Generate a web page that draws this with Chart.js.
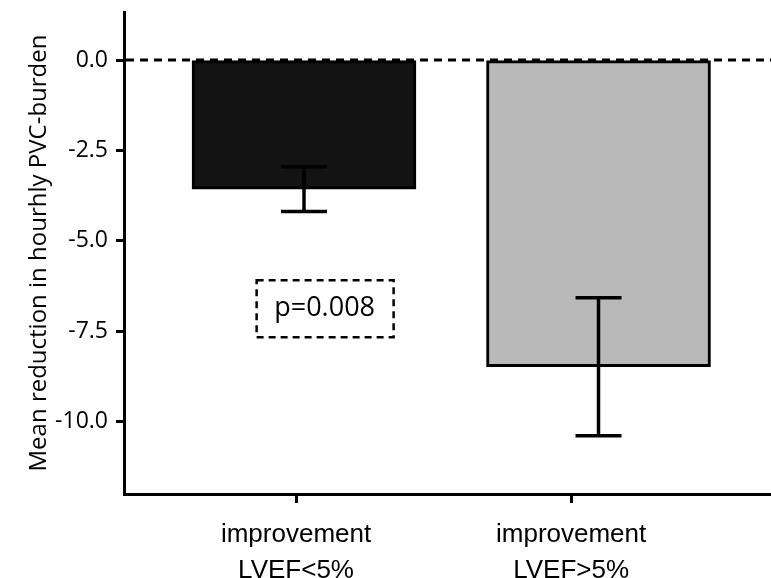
<!DOCTYPE html>
<html>
<head>
<meta charset="utf-8">
<script src="https://cdn.jsdelivr.net/npm/chart.js@4.4.1/dist/chart.umd.min.js"></script>
<style>
  html, body { margin: 0; padding: 0; background: #fff; }
  #wrap { width: 771px; height: 578px; }
</style>
</head>
<body>
<div id="wrap"><canvas id="pvcChart"></canvas></div>
<script>
// Mean change in hourly PVC burden per LVEF-improvement group
const groups = [['improvement', 'LVEF<5%'], ['improvement', 'LVEF>5%']];
const means = [-3.57, -8.48];
const errors = [0.62, 1.91];
const yTicks = [-10, -7.5, -5, -2.5, 0];
const pText = 'p=0.008';

// where things sit on the linear x scale (bars at 1 and 2, labels a bit off)
const barX = [1, 2];
const labelX = [0.973, 1.907];
const pBoxAt = { x: 1.07, y: -6.86 };
const barColors = ['#131313', '#b9b9b9'];

// dashed zero line under the bars, error bars and p-value box on top
const overlayPlugin = {
    id: 'overlay',
    beforeDatasetsDraw(chart) {
        const { ctx, chartArea, scales: { y } } = chart;
        const y0 = y.getPixelForValue(0);
        ctx.save();
        ctx.setLineDash([8, 6]);
        ctx.lineWidth = 3;
        ctx.strokeStyle = '#000';
        ctx.beginPath();
        ctx.moveTo(chartArea.left + 2, y0);
        ctx.lineTo(chartArea.right, y0);
        ctx.stroke();
        ctx.restore();
    },
    afterDatasetsDraw(chart) {
        const { ctx, scales: { x, y } } = chart;
        ctx.save();
        ctx.strokeStyle = '#000';
        ctx.lineWidth = 3.5;
        means.forEach((m, i) => {
            const px = x.getPixelForValue(barX[i]);
            const top = y.getPixelForValue(m + errors[i]);
            const bot = y.getPixelForValue(m - errors[i]);
            ctx.beginPath();
            ctx.moveTo(px, top); ctx.lineTo(px, bot);
            ctx.moveTo(px - 23, top); ctx.lineTo(px + 23, top);
            ctx.moveTo(px - 23, bot); ctx.lineTo(px + 23, bot);
            ctx.stroke();
        });

        const cx = x.getPixelForValue(pBoxAt.x);
        const cy = y.getPixelForValue(pBoxAt.y);
        ctx.font = '27px "Open Sans", sans-serif';
        ctx.fillStyle = '#000';
        ctx.textAlign = 'center';
        ctx.textBaseline = 'middle';
        ctx.fillText(pText, cx, cy);
        ctx.setLineDash([7, 5]);
        ctx.lineWidth = 2.5;
        ctx.strokeRect(cx - 68, cy - 28, 137, 57);
        ctx.restore();
    }
};

new Chart(document.getElementById('pvcChart').getContext('2d'), {
    type: 'bar',
    data: {
        datasets: [{
            data: means.map((m, i) => ({ x: barX[i], y: m })),
            backgroundColor: barColors,
            borderColor: '#000',
            borderWidth: 3,
            borderSkipped: false,
            barThickness: 224
        }]
    },
    options: {
        responsive: true,
        maintainAspectRatio: false,
        animation: false,
        layout: { padding: { top: 12, left: 0, right: 0, bottom: 0 } },
        plugins: {
            legend: { display: false },
            tooltip: { enabled: false }
        },
        scales: {
            x: {
                type: 'linear',
                min: 0.3888,
                max: 2.5857,
                offset: false,
                afterBuildTicks: s => { s.ticks = labelX.map(v => ({ value: v })); },
                afterFit: s => {
                    s.height = 84;
                    s.paddingLeft = 0;
                    s.paddingRight = 0;
                },
                border: { color: '#000', width: 3 },
                grid: {
                    offset: false,
                    drawOnChartArea: false,
                    tickLength: 9,
                    tickWidth: 3,
                    tickColor: '#000'
                },
                ticks: {
                    autoSkip: false,
                    maxRotation: 0,
                    padding: 14,
                    color: '#000',
                    font: { family: '"Liberation Sans", Arial, sans-serif', size: 26, lineHeight: 1.38 },
                    callback: (v, i) => groups[i]
                }
            },
            y: {
                min: -12,
                max: 1.33,
                afterBuildTicks: s => { s.ticks = yTicks.map(v => ({ value: v })); },
                afterFit: s => {
                    s.width = 124;
                    s.paddingTop = 0;
                    s.paddingBottom = 0;
                },
                border: { color: '#000', width: 3 },
                grid: {
                    drawOnChartArea: false,
                    tickLength: 8,
                    tickWidth: 3,
                    tickColor: '#000'
                },
                ticks: {
                    padding: 8,
                    color: '#000',
                    font: { family: '"Open Sans", sans-serif', size: 23 },
                    callback: v => v.toFixed(1)
                },
                title: {
                    display: true,
                    text: 'Mean reduction in hourhly PVC-burden',
                    color: '#000',
                    font: { family: '"Open Sans", sans-serif', size: 24 },
                    padding: { top: 25, bottom: 0 }
                }
            }
        }
    },
    plugins: [overlayPlugin]
});
</script>
</body>
</html>
